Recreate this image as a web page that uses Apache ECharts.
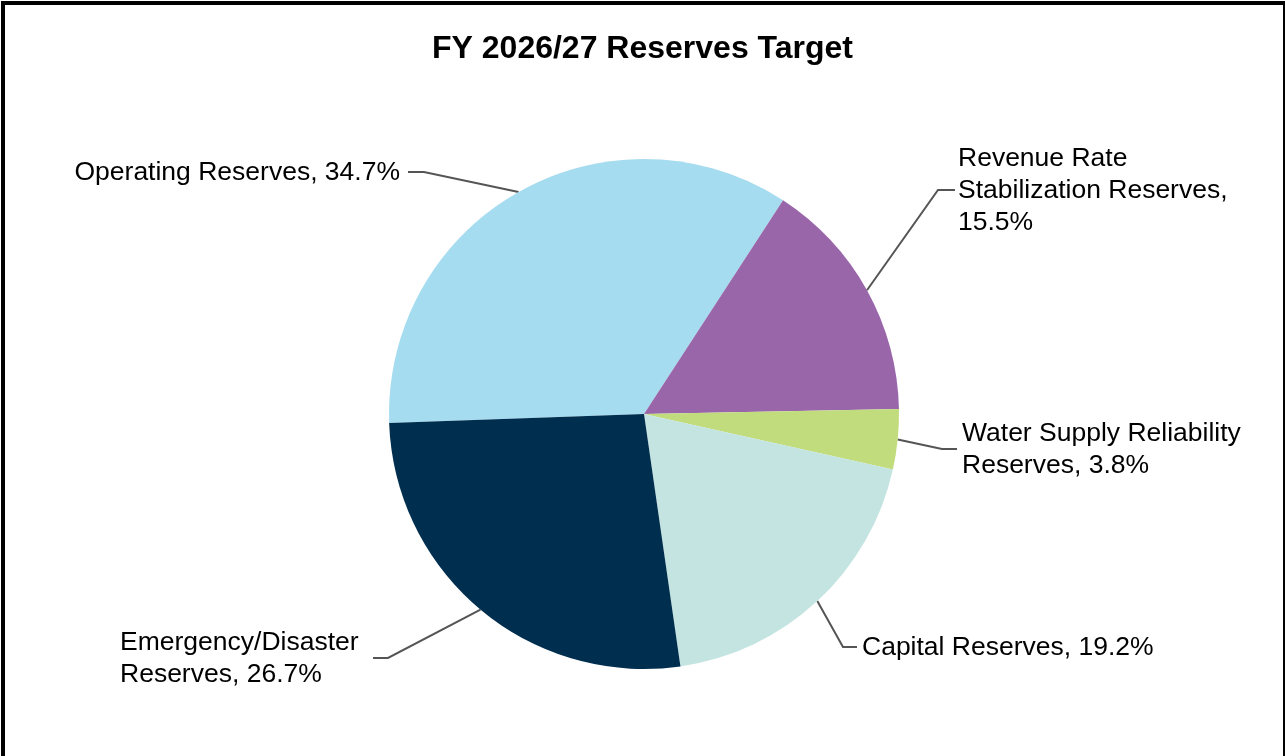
<!DOCTYPE html>
<html>
<head>
<meta charset="utf-8">
<title>FY 2026/27 Reserves Target</title>
<script src="https://cdn.jsdelivr.net/npm/echarts@6/dist/echarts.min.js"></script>
<style>
  html, body { margin: 0; padding: 0; background: #ffffff; }
  #chart { width: 1285px; height: 756px; }
</style>
</head>
<body>
<div id="chart"></div>
<script>
// Reserve categories (a line break marks where the label wraps)
var categories = [
  'Operating Reserves',
  'Revenue Rate\nStabilization Reserves',
  'Water Supply Reliability\nReserves',
  'Capital Reserves',
  'Emergency/Disaster\nReserves'
];
// Share of the reserves target, percent
var shares = [34.7, 15.5, 3.8, 19.2, 26.7];
// Text between the name and the percentage in each label
var valueSeparators = [', ', ',\n', ', ', ', ', ', '];
var colors = ['#A6DCEF', '#9966AA', '#C1DC7D', '#C3E4E0', '#002E4F'];

// Where each label sits and where its leader line bends / ends
var labelSpots = [
  { x: 400, y: 172, align: 'right', bendX: 424, endX: 408 },
  { x: 958, y: 190, align: 'left',  bendX: 938, endX: 955 },
  { x: 962, y: 449, align: 'left',  bendX: 942, endX: 957 },
  { x: 862, y: 647, align: 'left',  bendX: 843, endX: 857 },
  { x: 120, y: 658, align: 'left',  bendX: 388, endX: 373 }
];

var chart = echarts.init(document.getElementById('chart'), null, { renderer: 'canvas' });

var pieData = categories.map(function (name, i) {
  return { name: name, value: shares[i], itemStyle: { color: colors[i] } };
});

chart.setOption({
  animation: false,
  backgroundColor: '#ffffff',
  title: {
    text: 'FY 2026/27 Reserves Target',
    left: 'center',
    top: 27,
    textStyle: {
      fontFamily: 'Liberation Sans, Arial, sans-serif',
      fontWeight: 'bold',
      fontSize: 32,
      lineHeight: 34,
      color: '#000000'
    }
  },
  graphic: [{
    type: 'rect',
    shape: { x: 3, y: 3, width: 1282, height: 800 },
    style: { fill: 'none', stroke: '#000000', lineWidth: 4 },
    silent: true,
    z: 100
  }],
  series: [{
    type: 'pie',
    center: [644, 414],
    radius: 255,
    startAngle: 182,
    clockwise: true,
    data: pieData,
    itemStyle: { borderWidth: 0 },
    emphasis: { disabled: true },
    label: {
      show: true,
      position: 'outside',
      fontFamily: 'Liberation Sans, Arial, sans-serif',
      fontSize: 26.5,
      lineHeight: 32,
      color: '#000000',
      formatter: function (p) {
        return p.name + valueSeparators[p.dataIndex] + p.value.toFixed(1) + '%';
      }
    },
    labelLine: {
      show: true,
      length: 10,
      length2: 10,
      lineStyle: { color: '#555555', width: 2 }
    },
    labelLayout: function (params) {
      var s = labelSpots[params.dataIndex];
      var start = params.labelLinePoints ? params.labelLinePoints[0] : [s.bendX, s.y];
      return {
        x: s.x,
        y: s.y + 1,
        align: s.align,
        verticalAlign: 'middle',
        labelLinePoints: [start, [s.bendX, s.y], [s.endX, s.y]]
      };
    }
  }]
});
</script>
</body>
</html>
